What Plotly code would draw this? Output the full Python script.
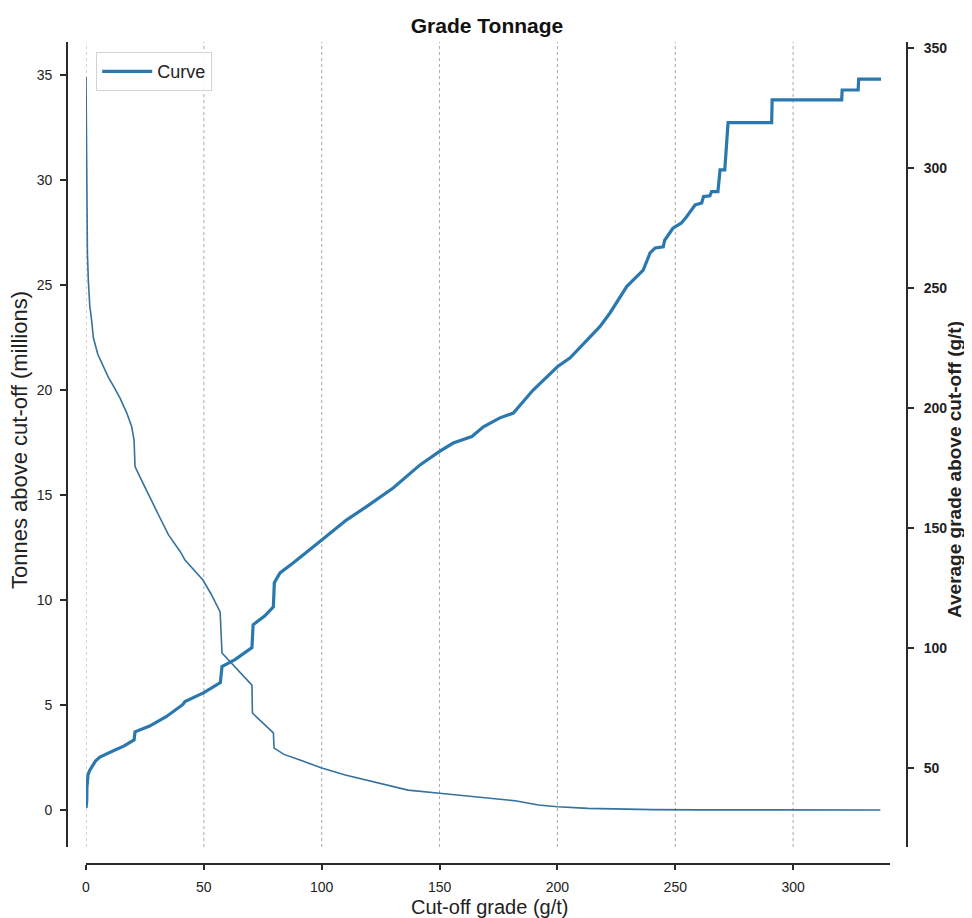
import plotly.graph_objects as go

# ---- data ----
tonnage_cutoff = [0, 0.15, 0.3, 0.6, 1.0, 1.6, 2.4, 3.1, 5.0, 7.3, 9.5, 11.6, 14.5, 17.3, 19.4, 20.4, 20.8,
                  23.6, 27, 31, 35, 40, 42, 46, 49.6, 53, 56.9, 57.7, 62, 66, 70.4, 70.6, 75, 79.5, 79.8,
                  84, 90.8, 100, 110, 120, 136.6, 150, 166, 182, 192, 200, 213, 230, 240, 260, 290, 337]
tonnes_millions = [34.9, 31.5, 28.7, 26.5, 25.2, 24.0, 23.3, 22.5, 21.7, 21.1, 20.6, 20.2, 19.6, 18.9, 18.25,
                   17.6, 16.35, 15.7, 14.9, 14.0, 13.1, 12.3, 11.9, 11.4, 10.95, 10.3, 9.43, 7.48, 6.95, 6.45,
                   5.95, 4.62, 4.15, 3.67, 2.95, 2.65, 2.38, 2.0, 1.67, 1.4, 0.95, 0.8, 0.62, 0.44, 0.24, 0.16,
                   0.08, 0.04, 0.02, 0.01, 0.0, 0.0]

grade_cutoff = [0, 0.3, 0.4, 0.85, 1.5, 2.4, 4, 5.9, 9, 12.3, 16, 19.4, 20.4, 20.8, 27, 34, 41, 42, 50, 57,
                57.7, 63.2, 70.4, 70.9, 75.9, 79.5, 79.9, 82.3, 88, 100, 110.6, 119, 130.3, 141.7, 150,
                155.8, 163.7, 168.6, 175.6, 181.3, 189.7, 200, 205.4, 218, 222.3, 229.4, 236.4, 239.3,
                241.5, 244.9, 245.5, 249, 252.6, 254.8, 258.4, 261.2, 262, 264.7, 265.4, 268.1, 269, 271,
                272.4, 290.9, 291.1, 320.6, 320.8, 327.6, 327.8, 337.3]
avg_grade = [33.5, 36, 42.1, 47.2, 49, 50.5, 53, 54.7, 56.2, 57.6, 59.2, 61, 61.8, 65.2, 67.6, 71.5, 76.5,
             77.8, 81.5, 85.7, 92.4, 95.3, 100.3, 109.8, 113.5, 117.3, 127.3, 131.4, 135.6, 145.1, 153.5,
             159, 166.8, 176.4, 182, 185.5, 188.2, 192.3, 196, 198, 207.6, 217.3, 221, 234, 239.7, 250.7,
             257.6, 264.7, 266.8, 267.3, 270, 275, 277.2, 279.8, 284.7, 285.5, 288.2, 288.5, 290.3, 290.3,
             299.3, 299.3, 319, 319, 328.5, 328.5, 332.6, 332.6, 337.1, 337.1]

x_ticks = [0, 50, 100, 150, 200, 250, 300]
left_ticks = [0, 5, 10, 15, 20, 25, 30, 35]
right_ticks = [50, 100, 150, 200, 250, 300, 350]

x_title = "Cut-off grade (g/t)"
left_title = "Tonnes above cut-off (millions)"
right_title = "Average grade above cut-off (g/t)"

FONT = "Liberation Sans, Arial, Helvetica, sans-serif"
AX = "#2b2b2b"

fig = go.Figure()
fig.add_trace(go.Scatter(x=tonnage_cutoff, y=tonnes_millions, mode="lines", name="Tonnes",
                         line=dict(color="#35719c", width=1.6), showlegend=False, yaxis="y"))
fig.add_trace(go.Scatter(x=grade_cutoff, y=avg_grade, mode="lines", name="Curve",
                         line=dict(color="#2a78ae", width=3.2), showlegend=True, yaxis="y2"))

# The page body has an 8px margin; lay the figure out in page coordinates minus that offset.
OFF = 8
W, H = 972 - OFF, 918 - OFF
L, R, T, B = 67 - OFF, 907 - OFF, 42 - OFF, 864 - OFF
pw, ph = R - L, B - T
ydom0 = 17 / ph


def px(xp):  # page pixel x -> paper fraction
    return (xp - OFF - L) / pw


def py(yp):  # page pixel y -> paper fraction
    return (B - (yp - OFF)) / ph


# dotted vertical gridlines at the x tick positions, limited to the axes height
for xv in x_ticks:
    fig.add_shape(type="line", xref="x", yref="paper", x0=xv, x1=xv, y0=ydom0, y1=1,
                  line=dict(color="#a8a8a8", width=1, dash="dot"), layer="below")

# axis titles
fig.add_annotation(text=x_title, xref="paper", yref="paper", x=px(489), y=py(907),
                   xanchor="center", yanchor="middle", showarrow=False,
                   font=dict(size=20, color="#222", family=FONT))
fig.add_annotation(text=left_title, xref="paper", yref="paper", x=px(20), y=py(440),
                   xanchor="center", yanchor="middle", showarrow=False, textangle=-90,
                   font=dict(size=22, color="#222", family=FONT))
fig.add_annotation(text="<b>" + right_title + "</b>", xref="paper", yref="paper", x=px(954), y=py(470),
                   xanchor="center", yanchor="middle", showarrow=False, textangle=-90,
                   font=dict(size=19, color="#222", family=FONT))

fig.update_layout(
    width=W, height=H,
    margin=dict(l=L, r=W - R, t=T, b=H - B, pad=0, autoexpand=False),
    paper_bgcolor="white", plot_bgcolor="white",
    font=dict(family=FONT, color="#222"),
    title=dict(text="<b>Grade Tonnage</b>", x=(487 - OFF) / W, xanchor="center", xref="container",
               y=1 - (26 - OFF) / H, yanchor="middle", yref="container",
               font=dict(size=21, family=FONT, color="#111")),
    xaxis=dict(domain=[(86 - 67) / pw, (890 - 67) / pw], anchor="free", position=0,
               range=[0, 341.1], tickvals=x_ticks, ticks="outside", ticklen=5, tickwidth=1.5,
               tickcolor=AX, showline=True, linecolor=AX, linewidth=1.8,
               showgrid=False, zeroline=False, automargin=False, ticklabelstandoff=5,
               tickfont=dict(size=14, color="#222")),
    yaxis=dict(domain=[ydom0, 1], anchor="free", position=0,
               range=[-1.76, 36.57], tickvals=left_ticks, ticks="outside", ticklen=6, tickwidth=1.5,
               tickcolor=AX, showline=True, linecolor=AX, linewidth=1.8, showgrid=False,
               zeroline=False, automargin=False, ticklabelstandoff=5,
               tickfont=dict(size=14, color="#222")),
    yaxis2=dict(overlaying="y", side="right", anchor="free", position=1,
                range=[17.2, 352.6], tickvals=right_ticks, ticks="outside", ticklen=6, tickwidth=1.5,
                tickcolor=AX, showline=True, linecolor=AX, linewidth=1.8, showgrid=False,
                zeroline=False, automargin=False, ticklabelstandoff=7,
                tickfont=dict(size=14, color="#222", weight="bold")),
    legend=dict(x=(96 - 67) / pw, y=(864 - 52) / ph, xanchor="left", yanchor="top",
                bgcolor="rgba(255,255,255,0.9)", bordercolor="#d4d4d4", borderwidth=1.2,
                font=dict(size=18, color="#222"), itemwidth=50),
    showlegend=True,
)

fig.write_html("out.html")
